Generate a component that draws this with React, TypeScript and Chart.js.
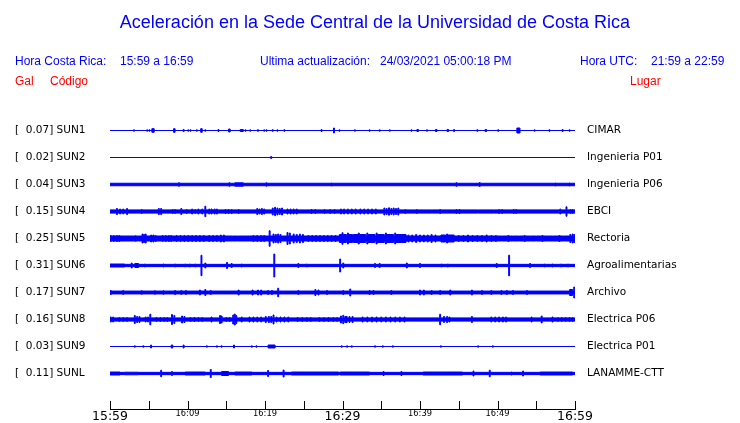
import React, { useEffect, useRef } from 'react';
import { Chart, registerables } from 'chart.js';

Chart.register(...registerables);

// ---------------- data ----------------
const STATION_CODES = ['SUN1', 'SUN2', 'SUN3', 'SUN4', 'SUN5', 'SUN6', 'SUN7', 'SUN8', 'SUN9', 'SUNL'];
const PEAK_GAL = [0.07, 0.02, 0.04, 0.15, 0.25, 0.31, 0.17, 0.16, 0.03, 0.11];
const SITE_NAMES = [
  'CIMAR', 'Ingenieria P01', 'Ingenieria P06', 'EBCI', 'Rectoria',
  'Agroalimentarias', 'Archivo', 'Electrica P06', 'Electrica P01', 'LANAMME-CTT',
];
// minutes after 15:59 (0..60); labels every 10 minutes
const X_TICK_LABELS = ['15:59', '16:09', '16:19', '16:29', '16:39', '16:49', '16:59'];
const X_MAX_MIN = 60;

// background (noise) half-amplitude of each trace, and events:
// [minute, halfAmplitude] or [startMinute, endMinute, halfAmplitude]
const BASE_AMP = [0.5, 0.5, 1.75, 2.1, 3.0, 1.65, 1.95, 2.1, 0.5, 1.65];

const SUN1_EVENTS = [[3.1, 1.2], [4.8, 1.2], [5.1, 1.2], [5.4, 5.7, 2.3], [8.2, 8.4, 2.3], [9.5, 1.5], [10.1, 1.2], [10.4, 1.2], [11.2, 1.2], [11.7, 11.9, 2.3], [12.3, 1.2], [14.0, 1.5], [15.3, 15.5, 2.0], [16.8, 17.2, 1.5], [17.5, 1.2], [18.1, 1.2], [19.1, 1.3], [19.9, 1.2], [20.2, 1.2], [21.0, 1.3], [21.6, 1.2], [22.5, 1.3], [27.3, 1.5], [28.9, 3.0], [29.6, 1.2], [31.6, 1.2], [33.5, 1.2], [34.8, 1.2], [36.1, 1.2], [38.9, 1.2], [39.6, 39.8, 1.5], [40.9, 1.2], [42.0, 42.2, 1.5], [43.5, 43.7, 1.5], [44.4, 1.5], [47.4, 1.3], [48.4, 48.6, 1.5], [50.1, 1.3], [52.5, 52.9, 3.0], [54.8, 1.2], [56.7, 1.3], [58.4, 1.5], [59.3, 1.2]];
const SUN2_EVENTS = [[20.8, 1.5]];
const SUN3_EVENTS = [[8.9, 2.3], [15.4, 2.3], [16.1, 17.2, 2.2], [20.2, 2.2], [28.6, 2.0], [44.7, 2.3], [47.7, 2.5], [57.5, 2.0], [59.3, 2.0]];
const SUN4_EVENTS = [[0.9, 3.5], [1.3, 3.0], [1.7, 3.0], [2.2, 3.5], [4.1, 2.5], [6.3, 3.5], [6.6, 3.5], [8.1, 2.5], [8.4, 2.5], [9.2, 3.5], [9.9, 2.5], [10.6, 3.0], [11.0, 2.5], [11.4, 3.0], [11.9, 3.0], [12.3, 5.7], [12.8, 3.0], [13.1, 3.0], [13.5, 3.0], [13.8, 3.0], [14.9, 2.5], [15.3, 2.5], [15.7, 2.5], [16.6, 2.5], [19.0, 3.5], [19.3, 3.0], [19.6, 3.5], [19.9, 3.0], [21.0, 4.0], [21.3, 4.7], [21.6, 4.0], [21.9, 3.5], [22.2, 4.0], [22.9, 3.0], [23.3, 3.0], [23.7, 3.0], [24.1, 3.0], [26.0, 2.5], [26.5, 2.5], [27.7, 2.5], [28.4, 2.5], [29.0, 2.5], [29.8, 3.0], [30.2, 3.0], [30.7, 3.0], [31.2, 3.0], [31.7, 3.0], [32.3, 3.0], [32.8, 3.0], [33.3, 3.0], [33.8, 3.0], [34.3, 3.0], [35.4, 4.0], [35.7, 3.5], [36.0, 4.2], [36.3, 3.5], [36.6, 4.0], [36.9, 3.5], [37.2, 4.0], [38.1, 2.5], [39.6, 2.5], [41.5, 2.0], [42.6, 2.5], [44.7, 2.5], [45.1, 2.5], [47.5, 2.0], [49.5, 2.0], [50.2, 2.5], [50.6, 2.5], [52.1, 2.5], [52.4, 2.5], [58.1, 3.0], [58.9, 5.2], [59.4, 2.5], [59.7, 2.5]];
const SUN5_EVENTS = [[0.1, 3.5], [0.5, 3.5], [0.9, 3.5], [1.2, 3.5], [2.9, 3.0], [3.3, 3.2], [3.6, 3.0], [4.2, 5.0], [4.4, 4.5], [4.6, 5.0], [5.3, 4.0], [5.6, 4.0], [5.9, 3.5], [6.8, 3.5], [7.2, 3.5], [7.6, 3.5], [7.9, 3.5], [8.6, 3.5], [9.1, 3.5], [9.6, 3.5], [10.1, 3.5], [10.6, 3.5], [11.1, 3.5], [11.6, 3.5], [12.1, 3.5], [12.8, 3.5], [13.3, 3.5], [13.8, 3.5], [14.3, 4.0], [14.7, 4.0], [15.9, 3.0], [16.5, 3.0], [17.1, 3.0], [17.6, 3.0], [18.5, 3.5], [19.0, 3.5], [19.5, 3.5], [19.9, 3.5], [20.6, 8.3], [21.1, 5.0], [21.4, 4.5], [21.7, 5.0], [22.0, 4.5], [22.9, 6.5], [23.2, 6.0], [23.7, 5.0], [24.1, 4.5], [24.5, 5.0], [24.9, 4.5], [25.6, 3.5], [26.1, 3.5], [26.6, 3.5], [27.1, 3.5], [27.6, 3.5], [28.1, 3.5], [28.6, 3.5], [29.1, 3.5], [29.6, 29.9, 4.5], [30.0, 6.3], [30.1, 30.5, 4.5], [30.7, 6.0], [30.8, 31.3, 4.5], [31.4, 32.0, 4.5], [32.1, 6.0], [32.2, 33.0, 4.5], [33.2, 6.0], [33.3, 34.2, 4.5], [34.4, 6.0], [34.5, 35.4, 4.5], [35.6, 6.0], [35.7, 36.6, 4.5], [36.8, 6.0], [36.9, 38.2, 4.5], [38.5, 4.0], [39.0, 4.0], [39.5, 4.5], [40.0, 4.0], [40.5, 4.0], [41.0, 4.0], [41.5, 4.5], [42.0, 4.0], [42.7, 43.3, 4.0], [43.5, 5.0], [43.6, 44.4, 4.0], [45.0, 3.5], [45.6, 3.5], [46.2, 4.0], [46.8, 3.5], [47.4, 3.5], [48.0, 3.5], [48.6, 4.0], [49.2, 3.5], [49.8, 3.5], [50.6, 3.0], [51.4, 3.5], [52.0, 3.0], [52.8, 3.0], [53.5, 3.5], [54.2, 3.0], [55.0, 3.0], [55.8, 3.5], [56.5, 3.0], [57.2, 3.0], [58.0, 3.5], [58.6, 3.0], [59.4, 4.5], [59.7, 5.0], [59.9, 4.5]];
const SUN6_EVENTS = [[0, 1.9, 2.0], [2.8, 3.0], [3.2, 3.7, 2.5], [4.5, 2.0], [6.9, 2.0], [8.4, 2.0], [9.7, 2.0], [10.3, 2.0], [11.0, 2.0], [11.8, 10.7], [12.3, 3.0], [15.1, 3.5], [15.7, 2.5], [17.0, 2.0], [21.2, 12.0], [24.3, 2.5], [25.4, 2.0], [29.7, 7.0], [30.1, 3.0], [34.2, 2.5], [34.8, 2.5], [38.3, 3.0], [40.0, 2.5], [42.8, 2.0], [43.6, 2.0], [49.9, 2.5], [51.5, 10.8], [54.2, 2.5], [56.1, 2.0], [57.1, 2.0], [58.2, 2.0], [59.1, 2.0]];
const SUN7_EVENTS = [[0.1, 2.5], [1.7, 2.5], [4.1, 2.3], [5.8, 2.3], [6.9, 2.3], [8.4, 2.5], [9.2, 2.5], [9.8, 2.5], [11.6, 3.0], [12.3, 3.5], [13.0, 2.5], [16.6, 3.0], [18.4, 3.0], [19.1, 3.0], [19.5, 3.0], [20.4, 2.5], [20.9, 2.5], [21.7, 4.8], [24.3, 2.5], [26.5, 3.5], [26.9, 3.0], [28.0, 2.5], [30.1, 2.5], [31.0, 4.0], [33.5, 2.5], [34.0, 2.5], [36.3, 2.5], [40.0, 3.0], [40.5, 3.0], [41.5, 2.5], [42.6, 2.5], [43.9, 3.0], [46.7, 3.0], [48.0, 2.5], [49.2, 2.5], [50.5, 2.5], [51.2, 2.5], [52.0, 2.5], [53.8, 2.5], [59.3, 59.7, 3.5], [59.9, 6.0]];
const SUN8_EVENTS = [[0.1, 3.0], [0.4, 3.0], [1.2, 2.5], [1.7, 2.5], [2.2, 2.5], [3.2, 4.5], [3.5, 3.5], [3.8, 3.5], [4.6, 3.0], [4.9, 3.0], [5.2, 5.8], [6.0, 2.5], [6.5, 2.5], [7.0, 2.5], [7.4, 2.5], [8.0, 5.5], [8.3, 4.5], [9.3, 4.0], [9.6, 3.5], [10.4, 2.5], [10.9, 2.5], [11.4, 2.5], [11.9, 2.5], [13.1, 3.0], [14.2, 4.5], [14.4, 4.0], [15.0, 2.5], [15.4, 2.5], [15.9, 5.0], [16.1, 6.0], [16.3, 4.5], [17.0, 3.0], [18.0, 3.0], [18.5, 3.0], [19.0, 3.0], [19.5, 3.0], [20.1, 3.5], [20.5, 3.5], [20.8, 3.5], [21.1, 5.0], [21.5, 3.0], [22.0, 3.0], [22.5, 3.0], [23.0, 3.0], [24.2, 2.5], [24.8, 2.5], [25.4, 2.5], [25.9, 2.5], [27.0, 2.5], [27.6, 2.5], [28.2, 2.5], [28.8, 2.5], [29.3, 2.5], [29.8, 4.0], [30.1, 4.7], [30.3, 30.6, 3.5], [30.9, 3.5], [31.3, 3.5], [32.6, 3.0], [33.2, 3.0], [33.8, 3.0], [34.4, 3.0], [35.0, 3.0], [35.6, 3.0], [36.2, 3.0], [36.8, 3.0], [37.4, 3.0], [38.0, 3.0], [42.6, 5.7], [43.1, 3.5], [43.5, 3.5], [43.8, 3.0], [46.7, 3.5], [49.2, 3.0], [49.7, 3.0], [50.2, 3.0], [50.7, 3.0], [51.1, 3.0], [54.4, 3.0], [55.7, 4.0], [57.1, 3.0], [57.8, 2.5], [58.3, 2.5], [58.8, 2.5], [59.3, 2.5], [59.7, 2.5]];
const SUN9_EVENTS = [[3.2, 1.2], [4.3, 1.2], [5.3, 2.0], [7.9, 8.1, 2.0], [9.5, 2.0], [12.5, 1.2], [13.8, 1.2], [14.4, 1.2], [16.0, 2.0], [18.3, 1.2], [18.9, 1.2], [20.4, 21.3, 2.0], [29.9, 1.2], [30.6, 1.2], [31.2, 1.2], [34.2, 1.2], [35.2, 1.2], [36.5, 1.2], [42.7, 1.2], [47.5, 1.2], [49.4, 1.2]];
const SUNL_EVENTS = [[0, 1.3, 2.0], [1.9, 3.6, 1.8], [6.6, 3.7], [8.0, 2.5], [9.7, 12.3, 2.0], [13.0, 4.5], [14.4, 15.3, 2.5], [16.1, 18.3, 2.0], [20.4, 3.5], [22.4, 4.0], [23.4, 29.5, 2.0], [29.7, 33.5, 2.0], [35.3, 2.5], [37.6, 2.5], [40.4, 45.5, 2.0], [46.9, 3.0], [49.0, 3.8], [51.8, 2.0], [53.3, 3.0], [55.5, 59.7, 2.0]];

const TRACE_EVENTS = [SUN1_EVENTS, SUN2_EVENTS, SUN3_EVENTS, SUN4_EVENTS, SUN5_EVENTS, SUN6_EVENTS, SUN7_EVENTS, SUN8_EVENTS, SUN9_EVENTS, SUNL_EVENTS];

// ---------------- presentation ----------------
const BLUE = '#0000ff';
const RED = '#ff0000';
const AMP_PER_ROW = 27; // amplitude units per row spacing
const ROWS_VISIBLE = 306 / 27;
const Y_MIN = -0.5 / 27;
const Y_MAX = Y_MIN + ROWS_VISIBLE;
const LINE_W = 1;
const SPIKE_W = 0.12; // drawn width of a single spike, minutes (~1px)

function envelope(base: number, events: number[][], row: number, sign: number) {
  const toY = (a: number) => row + (sign * Math.max(0, a - LINE_W / 2)) / AMP_PER_ROW;
  const evs = events
    .map((e) => (e.length === 2 ? [e[0] - SPIKE_W / 2, e[0] + SPIKE_W / 2, e[1]] : e))
    .sort((a, b) => a[0] - b[0]);
  const pts: { x: number; y: number }[] = [{ x: 0, y: toY(base) }];
  let last = 0;
  for (const [t0raw, t1raw, a] of evs) {
    const t0 = Math.min(X_MAX_MIN, Math.max(t0raw, last, 0));
    const t1 = Math.min(X_MAX_MIN, Math.max(t1raw, t0));
    pts.push({ x: t0, y: toY(Math.max(a, base)) }, { x: t1, y: toY(base) });
    last = t1;
  }
  pts.push({ x: X_MAX_MIN, y: toY(base) });
  return pts;
}

const upTicks = {
  id: 'upTicks',
  afterDraw(chart: any) {
    const xs = chart.scales.x;
    const { bottom } = chart.chartArea;
    const ctx = chart.ctx;
    ctx.save();
    ctx.strokeStyle = '#000';
    ctx.lineWidth = 1;
    ctx.beginPath();
    for (let v = 0; v <= X_MAX_MIN; v += 5) {
      const x = Math.round(xs.getPixelForValue(v)) + 0.5;
      ctx.moveTo(x, Math.round(bottom));
      ctx.lineTo(x, Math.round(bottom) - 8);
    }
    ctx.stroke();
    ctx.restore();
  },
};

const noPad = (s: any) => {
  s.paddingTop = 0;
  s.paddingBottom = 0;
  s.paddingLeft = 0;
  s.paddingRight = 0;
};

export default function App() {
  const ref = useRef<HTMLCanvasElement | null>(null);

  useEffect(() => {
    if (!ref.current) return;
    const datasets: any[] = [];
    TRACE_EVENTS.forEach((evs, i) => {
      const row = i + 1;
      const common = {
        borderColor: BLUE,
        backgroundColor: BLUE,
        borderWidth: LINE_W,
        pointRadius: 0,
        stepped: 'before',
        tension: 0,
        xAxisID: 'x',
        yAxisID: 'y',
      };
      datasets.push({ ...common, label: STATION_CODES[i] + '+', data: envelope(BASE_AMP[i], evs, row, -1), fill: '+1' });
      datasets.push({ ...common, label: STATION_CODES[i] + '-', data: envelope(BASE_AMP[i], evs, row, 1), fill: false });
    });

    const rowTicks = (scale: any) => {
      scale.ticks = STATION_CODES.map((_, i) => ({ value: i + 1 }));
    };

    const chart = new Chart(ref.current, {
      type: 'line',
      data: { datasets },
      plugins: [upTicks],
      options: {
        animation: false,
        responsive: false,
        devicePixelRatio: 1,
        events: [],
        parsing: false as any,
        layout: { padding: { top: 103, left: 15, right: 0, bottom: 0 } },
        plugins: { legend: { display: false }, tooltip: { enabled: false }, title: { display: false } },
        scales: {
          x: {
            type: 'linear',
            position: 'bottom',
            min: 0,
            max: X_MAX_MIN,
            afterBuildTicks: (s: any) => {
              const t = [];
              for (let v = 0; v <= X_MAX_MIN; v += 5) t.push({ value: v });
              s.ticks = t;
            },
            afterFit: (s: any) => { s.height = 14; noPad(s); },
            grid: { display: false, drawTicks: false },
            border: { display: true, color: '#000', width: 1 },
            ticks: {
              autoSkip: false,
              maxRotation: 0,
              padding: 0,
              color: '#000',
              font: (ctx: any) => {
                const v = ctx.tick ? ctx.tick.value : 0;
                const big = v % 30 === 0;
                return { family: 'DejaVu Sans', size: big ? 12.5 : 8.3, lineHeight: 1.2 };
              },
              callback: (v: any) => (Number(v) % 10 === 0 ? X_TICK_LABELS[Number(v) / 10] : ''),
            },
          },
          y: {
            type: 'linear',
            position: 'left',
            reverse: true,
            min: Y_MIN,
            max: Y_MAX,
            afterBuildTicks: rowTicks,
            afterFit: (s: any) => { s.width = 95; noPad(s); },
            grid: { display: false, drawTicks: false },
            border: { display: false },
            ticks: {
              autoSkip: false,
              crossAlign: 'far',
              padding: 0,
              color: '#000',
              font: { family: 'DejaVu Sans', size: 10.5 },
              callback: (v: any) => {
                const i = Math.round(Number(v)) - 1;
                return `[  ${PEAK_GAL[i].toFixed(2)}] ${STATION_CODES[i]}`;
              },
            },
          },
          y2: {
            type: 'linear',
            position: 'right',
            reverse: true,
            min: Y_MIN,
            max: Y_MAX,
            afterBuildTicks: rowTicks,
            afterFit: (s: any) => { s.width = 165; noPad(s); },
            grid: { display: false, drawTicks: false },
            border: { display: false },
            ticks: {
              autoSkip: false,
              padding: 12,
              color: '#000',
              font: { family: 'DejaVu Sans', size: 10.5 },
              callback: (v: any) => SITE_NAMES[Math.round(Number(v)) - 1],
            },
          },
        } as any,
      },
    } as any);
    return () => chart.destroy();
  }, []);

  const txt = (left: number, top: number, color: string, s: string) => (
    <span style={{ position: 'absolute', left, top, color, fontSize: 12, lineHeight: '12px', whiteSpace: 'pre' }}>{s}</span>
  );

  return (
    <div style={{ position: 'fixed', left: 0, top: 0, width: 740, height: 423, background: '#fff', fontFamily: '"Liberation Sans", Arial, sans-serif' }}>
      <canvas ref={ref} width={740} height={423} style={{ position: 'absolute', left: 0, top: 0 }} />
      <div style={{ position: 'absolute', left: 0, top: 13, width: 750, textAlign: 'center', color: BLUE, fontSize: 18, lineHeight: '18px', whiteSpace: 'nowrap' }}>
        Aceleración en la Sede Central de la Universidad de Costa Rica
      </div>
      {txt(15, 55, BLUE, 'Hora Costa Rica:')}
      {txt(120, 55, BLUE, '15:59 a 16:59')}
      {txt(260, 55, BLUE, 'Ultima actualización:')}
      {txt(380, 55, BLUE, '24/03/2021 05:00:18 PM')}
      {txt(580, 55, BLUE, 'Hora UTC:')}
      {txt(651, 55, BLUE, '21:59 a 22:59')}
      {txt(15, 75, RED, 'Gal')}
      {txt(50, 75, RED, 'Código')}
      {txt(630, 75, RED, 'Lugar')}
    </div>
  );
}
